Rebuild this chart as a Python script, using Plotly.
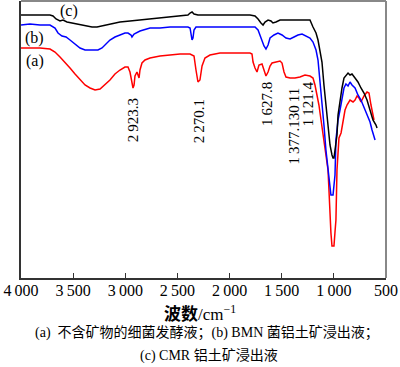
import plotly.graph_objects as go

# Wavenumber (cm^-1) and relative transmittance (a.u.)
wn_a = [4000, 3914, 3818, 3722, 3674, 3626, 3578, 3530, 3482, 3434, 3386, 3338, 3290, 3242, 3195, 3147, 3099, 3051, 3003, 2974,
        2955, 2936, 2926, 2916, 2907, 2888, 2868, 2859, 2840, 2811, 2763, 2667, 2571, 2475, 2379, 2341, 2322, 2303, 2284, 2264,
        2236, 2188, 2092, 1996, 1900, 1804, 1785, 1775, 1756, 1737, 1718, 1689, 1670, 1651, 1631, 1612, 1593, 1555, 1516, 1497,
        1478, 1459, 1420, 1373, 1325, 1277, 1229, 1200, 1181, 1162, 1143, 1123, 1104, 1085, 1066, 1056, 1047, 1037, 1028, 1018,
        999, 989, 980, 970, 960, 951, 931, 912, 893, 874, 845, 816, 797, 778, 759, 740, 711, 682, 663, 644, 625, 615]
t_a = [230, 230, 230, 229, 226, 221, 216, 210, 204, 198, 193, 190, 188, 189, 193, 198, 204, 208, 211, 211,
       206, 193, 190, 193, 202, 206, 200, 208, 215, 218, 220, 222, 223, 224, 224, 222, 208, 196, 198, 212,
       220, 223, 225, 225, 225, 225, 224, 216, 210, 206, 213, 214, 208, 202, 206, 212, 215, 216, 217, 215,
       206, 201, 200, 200, 201, 203, 202, 200, 193, 183, 173, 158, 145, 131, 118, 108, 88, 53, 45, 32,
       32, 46, 58, 108, 128, 140, 145, 158, 168, 173, 178, 176, 178, 182, 180, 176, 182, 186, 185, 173, 163, 158]

wn_b = [4000, 3914, 3818, 3722, 3674, 3645, 3607, 3568, 3530, 3482, 3434, 3386, 3338, 3262, 3223, 3185, 3147, 3099, 3051, 3003,
        2974, 2945, 2936, 2916, 2859, 2763, 2667, 2571, 2475, 2399, 2379, 2370, 2360, 2351, 2341, 2322, 2188, 1996, 1804, 1756,
        1727, 1699, 1670, 1651, 1631, 1612, 1574, 1536, 1497, 1459, 1420, 1382, 1344, 1305, 1267, 1229, 1200, 1171, 1152, 1133,
        1114, 1095, 1076, 1056, 1047, 1037, 1028, 1008, 999, 989, 980, 960, 941, 922, 903, 884, 864, 845, 826, 797,
        769, 740, 711, 682, 653, 634, 615, 605]
t_b = [253, 254, 253, 253, 250, 245, 242, 241, 238, 234, 230, 228, 228, 228, 230, 234, 238, 241, 243, 245,
       245, 243, 241, 244, 247, 250, 250, 251, 251, 251, 250, 242, 238, 240, 248, 251, 251, 251, 251, 251,
       248, 240, 232, 229, 233, 240, 243, 245, 243, 240, 239, 241, 243, 244, 242, 240, 236, 228, 218, 198,
       178, 153, 128, 108, 98, 93, 83, 83, 90, 103, 138, 158, 168, 178, 190, 194, 192, 196, 193, 190,
       183, 178, 170, 163, 156, 148, 140, 138]

wn_c = [4000, 3914, 3818, 3722, 3693, 3664, 3626, 3597, 3559, 3511, 3453, 3386, 3319, 3271, 3223, 3147, 3051, 2955, 2859, 2763,
        2667, 2571, 2475, 2399, 2379, 2360, 2341, 2303, 2188, 1996, 1804, 1756, 1727, 1699, 1679, 1660, 1631, 1603, 1584, 1555,
        1516, 1459, 1401, 1325, 1267, 1229, 1200, 1171, 1152, 1133, 1114, 1095, 1076, 1056, 1037, 1018, 1008, 999, 989, 970,
        960, 941, 922, 903, 884, 864, 845, 826, 797, 769, 740, 711, 682, 653, 625, 596, 586]
t_c = [263, 263, 263, 263, 262, 259, 257, 258, 256, 255, 254, 252, 251, 251, 252, 254, 256, 257, 258, 259,
       260, 261, 262, 263, 265, 266, 264, 263, 263, 263, 263, 262, 259, 255, 253, 256, 258, 257, 255, 256,
       258, 258, 258, 258, 258, 258, 251, 245, 238, 228, 216, 193, 173, 153, 133, 123, 120, 120, 128, 143,
       163, 178, 190, 200, 202, 205, 203, 204, 200, 196, 190, 185, 178, 168, 158, 153, 150]

tick_vals = [4000, 3500, 3000, 2500, 2000, 1500, 1000, 500]
tick_text = ["4\u2009000", "3\u2009500", "3\u2009000", "2\u2009500", "2\u2009000", "1\u2009500", "1\u2009000", "500"]

peak_text = ["2\u2009923.3", "2\u2009270.1", "1\u2009627.8", "1\u2009377.130\u200911", "1\u2009121.4"]
peak_x = [2923, 2290, 1641, 1378, 1245]
peak_y = [158, 157, 174, 152, 174]

curve_text = ["(a)", "(b)", "(c)"]
curve_x = [3866, 3866, 3540]
curve_y = [217, 240, 267]

SERIF = "Times New Roman, Liberation Serif, Noto Sans CJK SC"

fig = go.Figure()
fig.add_trace(go.Scatter(x=wn_a, y=t_a, mode="lines", line=dict(color="#ff0000", width=1.5), showlegend=False))
fig.add_trace(go.Scatter(x=wn_b, y=t_b, mode="lines", line=dict(color="#0000ff", width=1.5), showlegend=False))
fig.add_trace(go.Scatter(x=wn_c, y=t_c, mode="lines", line=dict(color="#000000", width=1.5), showlegend=False))

for s, x, y in zip(peak_text, peak_x, peak_y):
    fig.add_annotation(x=x, y=y, text=s, textangle=-90, showarrow=False,
                       xanchor="center", yanchor="middle", font=dict(family=SERIF, size=15, color="black"))
for s, x, y in zip(curve_text, curve_x, curve_y):
    fig.add_annotation(x=x, y=y, text=s, showarrow=False,
                       xanchor="center", yanchor="middle", font=dict(family=SERIF, size=16, color="black"))

fig.add_annotation(x=0.49, y=-0.125, xref="paper", yref="paper", text="<b>波数</b>/cm<sup>−1</sup>",
                   showarrow=False, xanchor="center", yanchor="middle",
                   font=dict(family=SERIF, size=17, color="black"))
fig.add_annotation(x=0.51, y=-0.2, xref="paper", yref="paper",
                   text="(a)  不含矿物的细菌发酵液；(b) BMN 菌铝土矿浸出液；",
                   showarrow=False, xanchor="center", yanchor="middle",
                   font=dict(family=SERIF, size=14, color="black"))
fig.add_annotation(x=0.515, y=-0.28, xref="paper", yref="paper",
                   text="(c) CMR 铝土矿浸出液",
                   showarrow=False, xanchor="center", yanchor="middle",
                   font=dict(family=SERIF, size=14, color="black"))

# gray top/right frame
fig.add_shape(type="line", xref="paper", yref="paper", x0=0, x1=1, y0=1, y1=1, line=dict(color="#888888", width=2))
fig.add_shape(type="line", xref="paper", yref="paper", x0=1, x1=1, y0=0, y1=1, line=dict(color="#888888", width=2))

fig.update_layout(
    width=400, height=367, autosize=False,
    margin=dict(l=21, r=14, t=1, b=89, pad=0),
    paper_bgcolor="white", plot_bgcolor="white",
    xaxis=dict(range=[4000, 500], tickvals=tick_vals, ticktext=tick_text, ticks="inside", ticklen=5,
               automargin=False, ticklabelstandoff=-3,
               tickcolor="#333333", showgrid=False, zeroline=False, showline=True, linecolor="#333333", linewidth=2,
               tickfont=dict(family=SERIF, size=16, color="black")),
    yaxis=dict(range=[0, 277], showticklabels=False, ticks="", showgrid=False, zeroline=False, automargin=False,
               showline=True, linecolor="#333333", linewidth=2),
)

fig.write_html("out.html", config={"responsive": False, "displayModeBar": False},
               post_script="document.body.style.margin='0';")
